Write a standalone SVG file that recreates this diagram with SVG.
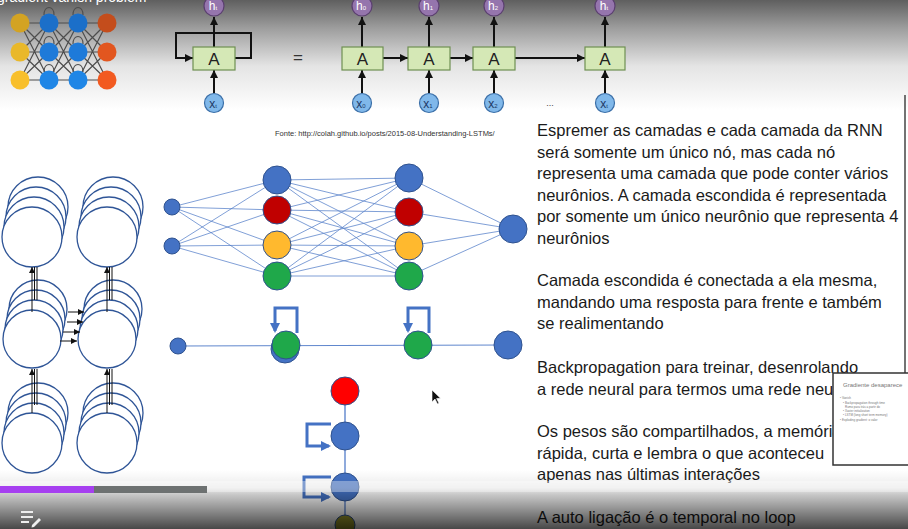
<svg xmlns="http://www.w3.org/2000/svg" width="908" height="529" viewBox="0 0 908 529">
<defs>
<linearGradient id="topBg" x1="0" y1="0" x2="0" y2="1">
<stop offset="0" stop-color="#5f5f5f"/><stop offset="0.25" stop-color="#9c9c9c"/><stop offset="0.6" stop-color="#e4e4e4"/><stop offset="1" stop-color="#ffffff"/>
</linearGradient>
<linearGradient id="botBg" x1="0" y1="0" x2="0" y2="1">
<stop offset="0" stop-color="#000" stop-opacity="0"/><stop offset="0.3" stop-color="#000" stop-opacity="0.08"/><stop offset="0.42" stop-color="#000" stop-opacity="0.22"/><stop offset="1" stop-color="#000" stop-opacity="0.72"/>
</linearGradient>
<marker id="ak" viewBox="0 0 10 10" refX="10" refY="5" markerWidth="8" markerHeight="8" markerUnits="userSpaceOnUse" orient="auto"><path d="M0,0 L10,5 L0,10 z" fill="#111"/></marker>
<marker id="aks" viewBox="0 0 10 10" refX="10" refY="5" markerWidth="6" markerHeight="6" markerUnits="userSpaceOnUse" orient="auto"><path d="M0,0 L10,5 L0,10 z" fill="#111"/></marker>
<marker id="ab" viewBox="0 0 10 10" refX="8" refY="5" markerWidth="10" markerHeight="10" markerUnits="userSpaceOnUse" orient="auto"><path d="M0,0 L10,5 L0,10 z" fill="#4472c4"/></marker>
<clipPath id="insetClip"><rect x="833" y="373" width="75" height="92"/></clipPath>
</defs>
<style>
.txt{font-family:"Liberation Sans",Arial,sans-serif;font-size:16.5px;fill:#1a1a1a}
.fonte{font-family:"Liberation Sans",Arial,sans-serif;font-size:7.5px;fill:#333}
.box{fill:#d5e8b6;stroke:#6f8f52;stroke-width:1.2}
.boxt{font-family:"Liberation Sans",Arial,sans-serif;font-size:17px;fill:#222;text-anchor:middle}
.hc{fill:#9575ad;stroke:#5b3f70;stroke-width:1.2}
.xc{fill:#80b8ea;stroke:#3b6fa8;stroke-width:1.2}
.ct{font-family:"Liberation Sans",Arial,sans-serif;font-size:12px;text-anchor:middle}
.ar{stroke:#111;stroke-width:2;fill:none;marker-end:url(#ak)}
.icl{stroke:#4d4d4d;stroke-width:1.2;fill:none}
.nl{stroke:#4472c4;stroke-width:0.8;fill:none;opacity:0.85}
.nb{fill:#4472c4;stroke:#2f528f;stroke-width:1}
.nr{fill:#c00000;stroke:#2f528f;stroke-width:1}
.no{fill:#ffb92e;stroke:#2f528f;stroke-width:1}
.ng{fill:#1fa84a;stroke:#2f528f;stroke-width:1}
.loop{stroke:#4472c4;stroke-width:3;fill:none;marker-end:url(#ab)}
.sc{fill:#fff;stroke:#2f5597;stroke-width:1.3}
.sl{stroke:#111;stroke-width:1;fill:none}
.sa{stroke:#111;stroke-width:1;fill:none;marker-end:url(#aks)}
</style>
<rect width="908" height="529" fill="#fff"/>
<rect width="908" height="110" fill="url(#topBg)"/>
<text x="-3" y="2" font-family="Liberation Sans, Arial, sans-serif" font-size="14" fill="#fff">gradient vanish problem</text>

<g id="nn-icon">
<g class="icl">
<path d="M20,23 L49,23 M20,23 L49,52 M20,23 L49,80 M20,52 L49,23 M20,52 L49,52 M20,52 L49,80 M20,80 L49,23 M20,80 L49,52 M20,80 L49,80"/>
<path d="M49,23 L78,23 M49,23 L78,52 M49,23 L78,80 M49,52 L78,23 M49,52 L78,52 M49,52 L78,80 M49,80 L78,23 M49,80 L78,52 M49,80 L78,80"/>
<path d="M78,23 L107,23 M78,23 L107,52 M78,23 L107,80 M78,52 L107,23 M78,52 L107,52 M78,52 L107,80 M78,80 L107,23 M78,80 L107,52 M78,80 L107,80"/>
<path d="M44,15 C44,5 54,5 54,15 M73,15 C73,5 83,5 83,15 M44,44 C44,34 54,34 54,44 M73,44 C73,34 83,34 83,44 M44,72 C44,62 54,62 54,72 M73,72 C73,62 83,62 83,72"/>
</g>
<circle cx="20" cy="23" r="9.5" fill="#d3a323"/><circle cx="20" cy="52" r="9.5" fill="#e9b82a"/><circle cx="20" cy="80" r="9.5" fill="#f8bf2b"/>
<circle cx="49" cy="23" r="9.5" fill="#1b6fc9"/><circle cx="49" cy="52" r="9.5" fill="#1e7ad9"/><circle cx="49" cy="80" r="9.5" fill="#1f86e6"/>
<circle cx="78" cy="23" r="9.5" fill="#1b6fc9"/><circle cx="78" cy="52" r="9.5" fill="#1e7ad9"/><circle cx="78" cy="80" r="9.5" fill="#1f86e6"/>
<circle cx="107" cy="23" r="9.5" fill="#c44d1c"/><circle cx="107" cy="52" r="9.5" fill="#e2561f"/><circle cx="107" cy="80" r="9.5" fill="#f25a20"/>
</g>

<g id="rnn-connectors">
<path class="ar" d="M214,47 V17"/><path class="ar" d="M214,93 V70"/>
<path class="ar" d="M235,58 H251 V33 H176 V58 H193"/>
<path class="ar" d="M362,47 V17"/><path class="ar" d="M362,93 V70"/>
<path class="ar" d="M429,47 V17"/><path class="ar" d="M429,93 V70"/>
<path class="ar" d="M494,47 V17"/><path class="ar" d="M494,93 V70"/>
<path class="ar" d="M605,47 V17"/><path class="ar" d="M605,93 V70"/>
<path class="ar" d="M383,58 H408"/><path class="ar" d="M450,58 H473"/><path class="ar" d="M515,58 H585"/>
</g>
<g id="rnn-rolled">
<rect class="box" x="193" y="47" width="42" height="23"/><text class="boxt" x="214" y="64.5">A</text>
<circle class="hc" cx="214" cy="6" r="10"/><text class="ct" x="213" y="10" fill="#fff">h<tspan font-size="6">t</tspan></text>
<circle class="xc" cx="214" cy="103" r="9.5"/><text class="ct" x="213" y="107.5" fill="#1d3a66">x<tspan font-size="6">t</tspan></text>
</g>
<text x="298" y="63" font-family="Liberation Sans, Arial, sans-serif" font-size="17" fill="#333" text-anchor="middle">=</text>
<g id="rnn-step0">
<rect class="box" x="342" y="47" width="41" height="23"/><text class="boxt" x="362.5" y="64.5">A</text>
<circle class="hc" cx="362" cy="6" r="10"/><text class="ct" x="361" y="10" fill="#fff">h<tspan font-size="6">0</tspan></text>
<circle class="xc" cx="362" cy="103" r="9.5"/><text class="ct" x="361" y="107.5" fill="#1d3a66">x<tspan font-size="6">0</tspan></text>
</g>
<g id="rnn-step1">
<rect class="box" x="408" y="47" width="42" height="23"/><text class="boxt" x="429" y="64.5">A</text>
<circle class="hc" cx="429" cy="6" r="10"/><text class="ct" x="428" y="10" fill="#fff">h<tspan font-size="6">1</tspan></text>
<circle class="xc" cx="429" cy="103" r="9.5"/><text class="ct" x="428" y="107.5" fill="#1d3a66">x<tspan font-size="6">1</tspan></text>
</g>
<g id="rnn-step2">
<rect class="box" x="473" y="47" width="42" height="23"/><text class="boxt" x="494" y="64.5">A</text>
<circle class="hc" cx="494" cy="6" r="10"/><text class="ct" x="493" y="10" fill="#fff">h<tspan font-size="6">2</tspan></text>
<circle class="xc" cx="494" cy="103" r="9.5"/><text class="ct" x="493" y="107.5" fill="#1d3a66">x<tspan font-size="6">2</tspan></text>
</g>
<text x="550" y="106" font-family="Liberation Sans, Arial, sans-serif" font-size="9" fill="#444" text-anchor="middle">...</text>
<g id="rnn-stept">
<rect class="box" x="585" y="47" width="40" height="23"/><text class="boxt" x="605" y="64.5">A</text>
<circle class="hc" cx="605" cy="6" r="10"/><text class="ct" x="604" y="10" fill="#fff">h<tspan font-size="6">t</tspan></text>
<circle class="xc" cx="605" cy="103" r="9.5"/><text class="ct" x="604" y="107.5" fill="#1d3a66">x<tspan font-size="6">t</tspan></text>
</g>
<text class="fonte" x="275" y="136">Fonte: http://colah.github.io/posts/2015-08-Understanding-LSTMs/</text>

<g id="left-stacks">
<g id="stack-c1-top"><circle class="sc" cx="38" cy="207" r="30"/><circle class="sc" cx="36" cy="217" r="30"/><circle class="sc" cx="34" cy="227" r="30"/><circle class="sc" cx="32" cy="237" r="30"/></g>
<g id="stack-c2-top"><circle class="sc" cx="113" cy="207" r="30"/><circle class="sc" cx="111" cy="217" r="30"/><circle class="sc" cx="109" cy="227" r="30"/><circle class="sc" cx="107" cy="237" r="30"/></g>
<g id="stack-c1-mid"><circle class="sc" cx="38" cy="309" r="29"/><circle class="sc" cx="36" cy="319" r="29"/><circle class="sc" cx="34" cy="329" r="29"/><circle class="sc" cx="32" cy="339" r="29"/></g>
<g id="stack-c2-mid"><circle class="sc" cx="113" cy="309" r="29"/><circle class="sc" cx="111" cy="319" r="29"/><circle class="sc" cx="109" cy="329" r="29"/><circle class="sc" cx="107" cy="339" r="29"/></g>
<g id="stack-c1-bot"><circle class="sc" cx="38" cy="413" r="30"/><circle class="sc" cx="36" cy="423" r="30"/><circle class="sc" cx="34" cy="433" r="30"/><circle class="sc" cx="32" cy="443" r="30"/></g>
<g id="stack-c2-bot"><circle class="sc" cx="113" cy="413" r="30"/><circle class="sc" cx="111" cy="423" r="30"/><circle class="sc" cx="109" cy="433" r="30"/><circle class="sc" cx="107" cy="443" r="30"/></g>
</g>
<g id="left-connectors">
<path class="sa" d="M32,312 V267"/><path class="sl" d="M34.5,300 V267 M37,300 V267"/>
<path class="sa" d="M107,312 V267"/><path class="sl" d="M109.5,300 V267 M112,300 V267"/>
<path class="sa" d="M32,413 V369"/><path class="sl" d="M34.5,405 V369 M37,405 V369"/>
<path class="sa" d="M107,413 V369"/><path class="sl" d="M109.5,405 V369 M112,405 V369"/>
<path class="sa" d="M68,312 H84"/><path class="sa" d="M67,322 H83"/><path class="sa" d="M63,332 H80"/><path class="sa" d="M60,341 H77"/>
</g>

<g id="nn-connectors" class="nl">
<path d="M172,207 L277,180 M172,207 L277,210 M172,207 L277,245 M172,207 L277,276 M172,246 L277,180 M172,246 L277,210 M172,246 L277,245 M172,246 L277,276"/>
<path d="M277,180 L409,178 M277,180 L409,212 M277,180 L409,246 M277,180 L409,276 M277,210 L409,178 M277,210 L409,212 M277,210 L409,246 M277,210 L409,276 M277,245 L409,178 M277,245 L409,212 M277,245 L409,246 M277,245 L409,276 M277,276 L409,178 M277,276 L409,212 M277,276 L409,246 M277,276 L409,276"/>
<path d="M409,178 L513,229 M409,212 L513,229 M409,246 L513,229 M409,276 L513,229"/>
</g>
<g id="nn-nodes">
<g id="in1"><circle class="nb" cx="172" cy="207" r="8"/></g>
<g id="in2"><circle class="nb" cx="172" cy="246" r="8"/></g>
<g id="h1a"><circle class="nb" cx="277" cy="180" r="14"/></g>
<g id="h1b"><circle class="nr" cx="277" cy="210" r="14"/></g>
<g id="h1c"><circle class="no" cx="277" cy="245" r="14"/></g>
<g id="h1d"><circle class="ng" cx="277" cy="276" r="14"/></g>
<g id="h2a"><circle class="nb" cx="409" cy="178" r="14"/></g>
<g id="h2b"><circle class="nr" cx="409" cy="212" r="14"/></g>
<g id="h2c"><circle class="no" cx="409" cy="246" r="14"/></g>
<g id="h2d"><circle class="ng" cx="409" cy="276" r="14"/></g>
<g id="out"><circle class="nb" cx="513" cy="229" r="14"/></g>
</g>

<g id="compact-connectors">
<path class="nl" d="M178,346 L508,345" style="stroke-width:1.2"/>
<path class="loop" d="M297,333 V308 H275 V331"/>
<path class="loop" d="M429,333 V308 H408 V331"/>
</g>
<g id="compact-nodes">
<g id="c-in"><circle class="nb" cx="178" cy="346" r="8"/></g>
<g id="c-h1"><circle class="nb" cx="285" cy="349" r="14"/><circle class="ng" cx="286" cy="345" r="14"/></g>
<g id="c-h2"><circle class="ng" cx="418" cy="345" r="14"/></g>
<g id="c-out"><circle class="nb" cx="508" cy="345" r="14"/></g>
</g>

<g id="unrolled-connectors">
<path d="M345,391 V525" stroke="#8faadc" stroke-width="2" fill="none"/>
<path class="loop" d="M331,424 H307 V446 H329"/>
<path class="loop" d="M331,477 H304 V497 H329"/>
</g>
<g id="unrolled-nodes">
<g id="u-red"><circle cx="345" cy="391" r="14" fill="#ff0000" stroke="#2f528f" stroke-width="1"/></g>
<g id="u-b1"><circle class="nb" cx="345" cy="436" r="14"/></g>
<g id="u-b2"><circle class="nb" cx="345" cy="487" r="14"/></g>
<g id="u-olive"><circle cx="345" cy="525" r="10" fill="#9c9a2c" stroke="#2f528f" stroke-width="1"/></g>
</g>

<path d="M432,390 L432,402 L435,399 L437.5,404 L439,403.3 L436.6,398.5 L440.5,398.3 Z" fill="#111" stroke="#fff" stroke-width="0.6"/>

<g id="text-block">
<text class="txt" x="537" y="136">Espremer as camadas e cada camada da RNN</text>
<text class="txt" x="537" y="157.5">será somente um único nó, mas cada nó</text>
<text class="txt" x="537" y="179">representa uma camada que pode conter vários</text>
<text class="txt" x="537" y="200.5">neurônios. A camada escondida é representada</text>
<text class="txt" x="537" y="222">por somente um único neurônio que representa 4</text>
<text class="txt" x="537" y="243.5">neurônios</text>
<text class="txt" x="537" y="286">Camada escondida é conectada a ela mesma,</text>
<text class="txt" x="537" y="307.5">mandando uma resposta para frente e também</text>
<text class="txt" x="537" y="329">se realimentando</text>
<text class="txt" x="537" y="373">Backpropagation para treinar, desenrolando</text>
<text class="txt" x="537" y="394.5">a rede neural para termos uma rede neu</text>
<text class="txt" x="537" y="437">Os pesos são compartilhados, a memória</text>
<text class="txt" x="537" y="458.5">rápida, curta e lembra o que aconteceu</text>
<text class="txt" x="537" y="480">apenas nas últimas interações</text>
<text class="txt" x="537" y="523">A auto ligação é o temporal no loop</text>
</g>
<line x1="905" y1="95" x2="905" y2="373" stroke="#444" stroke-width="1.5"/>

<g id="inset-slide">
<rect x="833" y="373" width="80" height="92" fill="#fff" stroke="#333" stroke-width="1.5"/>
<g clip-path="url(#insetClip)" font-family="Liberation Sans, Arial, sans-serif" fill="#777">
<text x="843" y="387" font-size="6">Gradiente desaparece</text>
<text x="840" y="399" font-size="3">• Vanish</text>
<text x="843" y="404" font-size="3">• Backpropagation through time</text>
<text x="845" y="408" font-size="3">Rumo para trás a partir do</text>
<text x="843" y="412" font-size="3">• Xavier initialization</text>
<text x="843" y="416" font-size="3">• LSTM (long short term memory)</text>
<text x="840" y="421" font-size="3">• Exploding gradient: o valor</text>
</g>
</g>

<rect x="0" y="470" width="908" height="59" fill="url(#botBg)"/>
<rect x="0" y="481" width="908" height="11" fill="#fff" opacity="0.35"/>
<rect x="0" y="486" width="94" height="7" fill="#a63ff0"/>
<rect x="94" y="486" width="113" height="7" fill="#6d7171"/>
<g id="player-icon" fill="#eee">
<rect x="21" y="511" width="12" height="2"/><rect x="21" y="516" width="12" height="2"/><rect x="21" y="521" width="8" height="2"/>
<path d="M32,525 L39,518 L41,520 L34,527 L31.5,527.5 Z"/>
</g>
</svg>
